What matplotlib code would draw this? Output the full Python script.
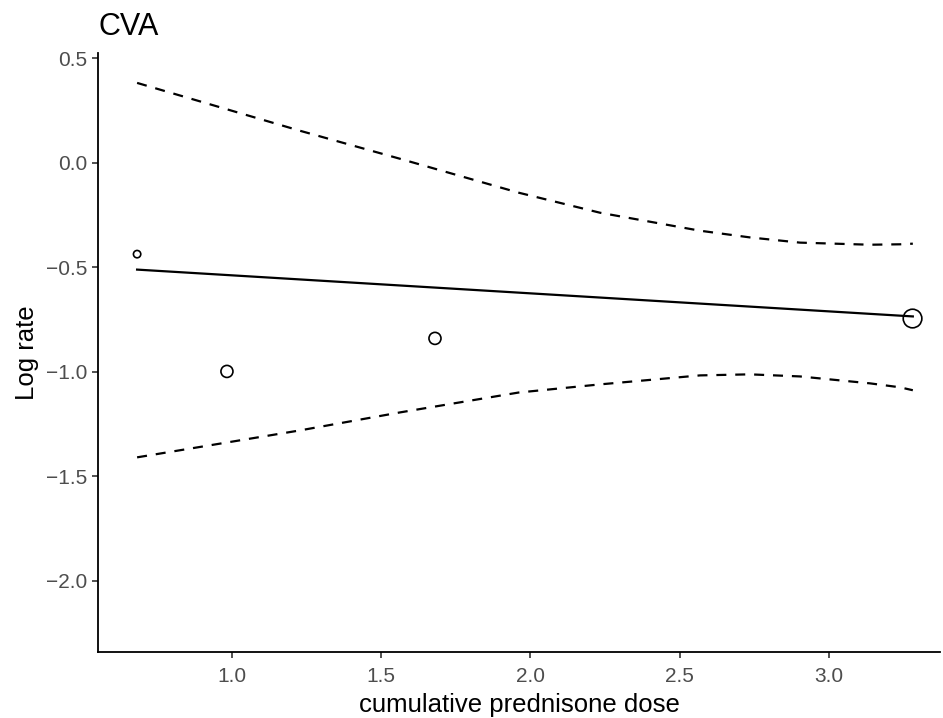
import matplotlib.pyplot as plt
import numpy as np

plt.rcParams['font.family'] = ['Liberation Sans', 'DejaVu Sans']

# observed points
pt_x = [0.682, 0.983, 1.68, 3.28]
pt_y = [-0.437, -0.998, -0.84, -0.745]
pt_size = [28, 75, 75, 180]

# fitted line
fit_x = [0.682, 3.281]
fit_y = [-0.511, -0.735]

# confidence band
ci_x = [0.682, 1.228, 1.563, 1.960, 2.233, 2.568, 2.735, 2.903, 3.137, 3.238, 3.281]
ci_up = [0.382, 0.153, 0.019, -0.143, -0.239, -0.325, -0.357, -0.382, -0.392, -0.390, -0.387]
ci_lo = [-1.409, -1.280, -1.194, -1.099, -1.060, -1.017, -1.012, -1.022, -1.055, -1.074, -1.088]

fig = plt.figure(figsize=(9.43, 7.18), dpi=100)
ax = fig.add_axes([98/943, 1-652/718, (940-98)/943, (652-53)/718])

ax.plot(fit_x, fit_y, color='black', lw=1.6)
ax.plot(ci_x, ci_up, color='black', lw=1.6, ls=(0, (4.5, 4)))
ax.plot(ci_x, ci_lo, color='black', lw=1.6, ls=(0, (4.5, 4)))
ax.scatter(pt_x, pt_y, s=pt_size, facecolors='none', edgecolors='black', linewidths=1.2, zorder=3)

ax.set_xlim(0.551, 3.372)
ax.set_ylim(-2.34, 0.525)
ax.set_xticks([1.0, 1.5, 2.0, 2.5, 3.0])
ax.set_yticks([0.5, 0.0, -0.5, -1.0, -1.5, -2.0])
ax.set_yticklabels(['0.5', '0.0', '\u22120.5', '\u22121.0', '\u22121.5', '\u22122.0'])
for s in ['top', 'right']:
    ax.spines[s].set_visible(False)
for s in ['left', 'bottom']:
    ax.spines[s].set_linewidth(1.3)
ax.tick_params(length=4, width=1.2, labelsize=15, labelcolor='#4d4d4d', color='#333333', pad=4)
ax.tick_params(axis='x', pad=7)

ax.set_xlabel('cumulative prednisone dose', fontsize=18.5, labelpad=5)
ax.set_ylabel('Log rate', fontsize=18.5, labelpad=5)
ax.set_title('CVA', fontsize=22, loc='left', pad=13)

fig.savefig('out.png', dpi=100)
